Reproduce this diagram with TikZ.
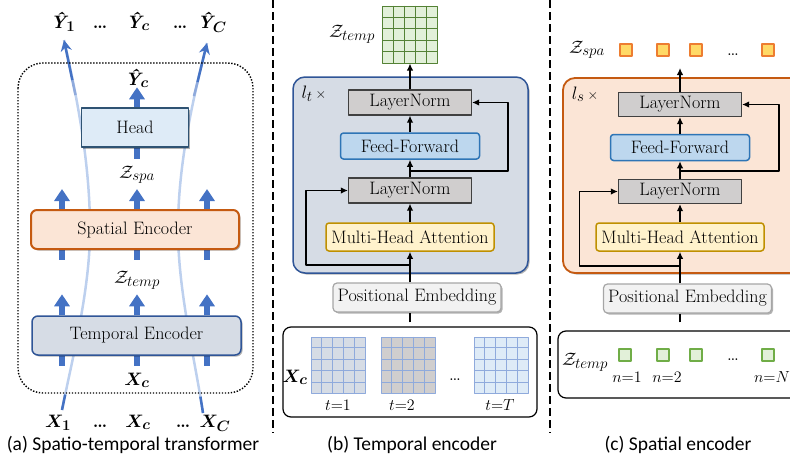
\documentclass[tikz,border=0pt]{standalone}
\usepackage{fix-cm}
\usepackage{fontspec}
\newfontfamily\capfont{Carlito}
\usepackage{bm}
\usetikzlibrary{arrows.meta,shadows,calc}
\pgfdeclarelayer{bg}
\pgfsetlayers{bg,main}
\definecolor{blueA}{HTML}{4472C4}
\definecolor{curveC}{HTML}{BDD0EE}
\definecolor{curveM}{HTML}{8FAADC}
\definecolor{headF}{HTML}{DEEBF7}
\definecolor{headB}{HTML}{2F5373}
\definecolor{spaF}{HTML}{FBE5D6}
\definecolor{spaB}{HTML}{C55A11}
\definecolor{tmpF}{HTML}{D6DCE5}
\definecolor{tmpB}{HTML}{2F5597}
\definecolor{lnF}{HTML}{D0CECE}
\definecolor{lnB}{HTML}{404040}
\definecolor{ffF}{HTML}{BDD7EE}
\definecolor{ffB}{HTML}{2E75B6}
\definecolor{mhF}{HTML}{FFF2CC}
\definecolor{mhB}{HTML}{BF9000}
\definecolor{peF}{HTML}{F2F2F2}
\definecolor{peB}{HTML}{A6A6A6}
\definecolor{grF}{HTML}{E2F0D9}
\definecolor{grB}{HTML}{548235}
\definecolor{sqgB}{HTML}{70AD47}
\definecolor{sqyF}{HTML}{FFD966}
\definecolor{sqyB}{HTML}{ED7D31}
\definecolor{gaF}{HTML}{D6DCE5}
\definecolor{gcF}{HTML}{DEEBF7}
\definecolor{gL}{HTML}{8FAADC}
\newcommand\mygridlines[2]{%
  \foreach \i in {1,2,3,4}{%
    \draw[#2,line width=0.9pt] ($(#1.north west)!\i/5!(#1.north east)$) -- ($(#1.south west)!\i/5!(#1.south east)$);
    \draw[#2,line width=0.9pt] ($(#1.north west)!\i/5!(#1.south west)$) -- ($(#1.north east)!\i/5!(#1.south east)$);
  }}
\newcommand\msub[1]{\mbox{\fontsize{15}{16}\selectfont$#1$}}
\newcommand\yhat[1]{{\bfseries\itshape Ŷ}$_{\msub{\bm{#1}}}$}
\newcommand\xbold[1]{$\bm{X}_{\msub{\bm{#1}}}$}
\begin{document}
\begin{tikzpicture}[x=1pt,y=-1pt,line join=round,
  bt/.style={font=\fontsize{18}{20}\selectfont, inner sep=0pt, align=center},
  ml/.style={font=\fontsize{18}{20}\selectfont, inner sep=0pt, anchor=base},
  dl/.style={font=\fontsize{21}{22}\selectfont, inner sep=0pt, anchor=base},
  sl/.style={font=\fontsize{16}{18}\selectfont, inner sep=0pt, anchor=base},
  captxt/.style={font=\capfont\fontsize{19.5}{22}\selectfont, inner sep=0pt, anchor=base},
  shd/.style={drop shadow={shadow xshift=1.5pt, shadow yshift=-1.5pt, opacity=0.3, fill=black}},
  fat/.style={draw=blueA, line width=5.5pt},
  fatarr/.style={fat, -{Triangle[width=15pt,length=12pt]}},
  curvel/.style={draw=curveC, line width=2.5pt},
  conn/.style={draw=black, line width=1.5pt},
  connarr/.style={conn, -{Latex[length=7pt,width=6.5pt]}},
  lnbox/.style={bt, draw=lnB, fill=lnF, line width=1.2pt, minimum width=123pt, minimum height=25pt},
  ffbox/.style={bt, draw=ffB, fill=ffF, line width=1.5pt, rounded corners=3pt, minimum width=139pt, minimum height=26pt},
  mhbox/.style={bt, draw=mhB, fill=mhF, line width=1.5pt, rounded corners=3pt, minimum width=168pt, minimum height=28pt},
  pebox/.style={bt, shd, draw=peB, fill=peF, line width=1.2pt, rounded corners=4pt, minimum width=168pt, minimum height=29pt},
  sqbox/.style={minimum size=12pt, inner sep=0pt, line width=1.2pt},
]
\useasboundingbox (0,0) rectangle (790,463);
\clip (0,0) rectangle (790,463);

% ---------------- panel (a) ----------------
\draw[line width=1.4pt, dash pattern=on 1.4pt off 1.6pt, rounded corners=25pt] (18,63) rectangle (253,393);

\node[bt, shd, draw=headB, fill=headF, line width=1.5pt, minimum width=107pt, minimum height=39pt] (head) at (135,127.5) {Head};
\node[bt, shd, draw=spaB, fill=spaF, line width=2pt, rounded corners=6pt, minimum width=208pt, minimum height=39pt] (spa) at (135,229.5) {Spatial Encoder};
\node[bt, shd, draw=tmpB, fill=tmpF, line width=1.5pt, rounded corners=6pt, minimum width=209pt, minimum height=39pt] (tmp) at (136.5,335.5) {Temporal Encoder};

\coordinate (ca) at (62,0);
\coordinate (cb) at (137,0);
\coordinate (cc) at (207,0);

\coordinate (la0) at (62,410);
\coordinate (la1) at (64,40);
\coordinate (ra0) at (203,413);
\coordinate (ra1) at (207,43);

\begin{pgfonlayer}{bg}
  \draw[curvel] (la0) .. controls (72,360) and (90,290) .. (90,230) .. controls (90,170) and (80,110) .. (la1);
  \draw[curvel] (ra0) .. controls (195,360) and (178,290) .. (178,230) .. controls (178,170) and (190,110) .. (ra1);
  \draw[draw=curveM, line width=2.5pt] (75.5,95) -- (72.3,80);
  \draw[draw=curveM, line width=2.5pt] (194,96) -- (197.5,82);
  \draw[draw=blueA, line width=2.5pt, -{Stealth[length=11pt,width=11pt]}] (72.3,80) -- (la1);
  \draw[draw=blueA, line width=2.5pt, -{Stealth[length=11pt,width=11pt]}] (197.5,82) -- (ra1);
  \draw[draw=blueA, line width=2.5pt] (la0) -- (65.2,394.5);
  \draw[draw=blueA, line width=2.5pt] (ra0) -- (200.4,396.6);
  \foreach \c in {ca,cb,cc}{
    \draw[fatarr] (tmp.north -| \c) -- ++(0,-21);
    \draw[fat] (tmp.south -| \c) -- ++(0,10);
    \draw[fatarr] (spa.north -| \c) -- ++(0,-20);
    \draw[fat] (spa.south -| \c) -- ++(0,10);
  }
  \draw[fatarr] (head.north -| cb) -- ++(0,-20);
  \draw[fat] (head.south -| cb) -- ++(0,11);
\end{pgfonlayer}

\node[ml] (yh1) at (63,28) {\yhat{1}};
\node[ml] (yd1) at (100,28) {\textbf{…}};
\node[ml] (yhc) at (138,28) {\yhat{c}};
\node[ml] (yd2) at (180,28) {\textbf{…}};
\node[ml] (yhC) at (212,28) {\yhat{C}};
\node[ml] (yin) at (137,85) {\yhat{c}};
\node[ml] (zspa) at (137,178) {$\mathcal{Z}_{\msub{spa}}$};
\node[ml] (ztmp) at (137,283) {$\mathcal{Z}_{\msub{temp}}$};
\node[ml] (xin) at (137,385) {\xbold{c}};
\node[ml] (x1) at (58,427) {\xbold{1}};
\node[ml] (xd1) at (100,427) {\textbf{…}};
\node[ml] (xc) at (138,427) {\xbold{c}};
\node[ml] (xd2) at (183,427) {\textbf{…}};
\node[ml] (xC) at (215,427) {\xbold{C}};
\node[captxt] (capa) at (133,450) {(a) Spatio-temporal transformer};

% dividers
\draw[line width=1.2pt, dash pattern=on 8pt off 4pt] (273,0) -- (273,433);
\draw[line width=1.2pt, dash pattern=on 8pt off 4pt] (550,0) -- (550,433);

% ---------------- panel (b) ----------------
\coordinate (xb) at (410,0);
\node[shd, draw=tmpB, fill=tmpF, line width=1.5pt, rounded corners=12pt, minimum width=235pt, minimum height=196pt, inner sep=0pt] (tb) at (410.5,175) {};
\node[lnbox] (ln2b) at (410,102.5) {LayerNorm};
\node[ffbox] (ffb) at (410,146) {Feed-Forward};
\node[lnbox] (ln1b) at (410,190.5) {LayerNorm};
\node[mhbox] (mhb) at (410,237) {Multi-Head Attention};
\node[pebox] (peb) at (417,297.5) {Positional Embedding};
\node[ml] (ltb) at (314,98) {$l_{\msub{t}}$\,{\fontsize{14}{16}\selectfont ×}};

\node[draw=grB, fill=grF, line width=1pt, minimum width=55pt, minimum height=57pt, inner sep=0pt] (zt) at (410,34.5) {};
\mygridlines{zt}{grB}
\node[ml] (ztl) at (352,37) {$\mathcal{Z}_{\msub{temp}}$};

\coordinate (jb1) at (410,265);
\coordinate (jb2) at (410,171);
\draw[connarr] (ln2b.north) -- (zt.south);
\draw[connarr] (ffb.north) -- (ln2b.south);
\draw[connarr] (ln1b.north) -- (ffb.south);
\draw[connarr] (mhb.north) -- (ln1b.south);
\draw[connarr] (peb.north -| xb) -- (mhb.south);
\draw[connarr] (jb1) -| ($(ln1b.west)+(-42,0)$) -- (ln1b.west);
\draw[connarr] (jb2) -| ($(ln2b.east)+(36,0)$) -- (ln2b.east);

\node[draw=black, line width=1.2pt, rounded corners=8pt, minimum width=254pt, minimum height=90pt, inner sep=0pt] (inb) at (410,372) {};
\draw[conn, shorten <=4pt] (inb.north -| xb) -- (peb.south -| xb);

\node[draw=gL, fill=gaF, line width=1pt, minimum width=54pt, minimum height=56pt, inner sep=0pt] (g1) at (338,365) {};
\mygridlines{g1}{gL}
\node[draw=gL, fill=lnF, line width=1pt, minimum width=54pt, minimum height=56pt, inner sep=0pt] (g2) at (408,365) {};
\mygridlines{g2}{gL}
\node[draw=gL, fill=gcF, line width=1pt, minimum width=54pt, minimum height=56pt, inner sep=0pt] (g3) at (501,365) {};
\mygridlines{g3}{gL}
\node[ml] (xcb) at (295,382) {\xbold{c}};
\node[dl] (gdots) at (455,380) {…};
\node[sl] (t1) at (338,410) {$t{=}1$};
\node[sl] (t2) at (402,410) {$t{=}2$};
\node[sl] (tT) at (500,410) {$t{=}T$};
\node[captxt] (capb) at (412,450) {(b) Temporal encoder};

% ---------------- panel (c) ----------------
\coordinate (xcc) at (680,0);
\node[shd, draw=spaB, fill=spaF, line width=1.8pt, rounded corners=12pt, minimum width=267pt, minimum height=195pt, inner sep=0pt] (sb) at (696.5,175.5) {};
\node[lnbox, minimum height=24pt] (ln2c) at (680,104.5) {LayerNorm};
\node[ffbox] (ffc) at (680,147.5) {Feed-Forward};
\node[lnbox, minimum height=24pt] (ln1c) at (680,191.5) {LayerNorm};
\node[mhbox] (mhc) at (680,237) {Multi-Head Attention};
\node[pebox] (pec) at (687.5,298.5) {Positional Embedding};
\node[ml] (lsc) at (585,99) {$l_{\msub{s}}$\,{\fontsize{14}{16}\selectfont ×}};

\coordinate (ztop) at (680,68);
\coordinate (jc1) at (680,266);
\coordinate (jc2) at (680,171);
\draw[connarr] (ln2c.north) -- (ztop);
\draw[connarr] (ffc.north) -- (ln2c.south);
\draw[connarr] (ln1c.north) -- (ffc.south);
\draw[connarr] (mhc.north) -- (ln1c.south);
\draw[connarr] (pec.north -| xcc) -- (mhc.south);
\draw[connarr] (jc1) -| ($(ln1c.west)+(-38.5,0)$) -- (ln1c.west);
\draw[connarr] (jc2) -| ($(ln2c.east)+(37,0)$) -- (ln2c.east);

\node[ml] (zsl) at (587,53) {$\mathcal{Z}_{\msub{spa}}$};
\node[sqbox, draw=sqyB, fill=sqyF] (s1) at (626,50) {};
\node[sqbox, draw=sqyB, fill=sqyF] (s2) at (663,50) {};
\node[sqbox, draw=sqyB, fill=sqyF] (s3) at (696,50) {};
\node[dl] (sd) at (733,55) {…};
\node[sqbox, draw=sqyB, fill=sqyF] (s4) at (768,50) {};

\node[draw=black, line width=1.2pt, rounded corners=8pt, minimum width=272pt, minimum height=67pt, inner sep=0pt] (inc) at (694,364.5) {};
\draw[conn, shorten <=8pt] (inc.north -| xcc) -- (pec.south -| xcc);
\node[ml] (ztc) at (585,365) {$\mathcal{Z}_{\msub{temp}}$};
\node[sqbox, draw=sqgB, fill=grF] (q1) at (625,355) {};
\node[sqbox, draw=sqgB, fill=grF] (q2) at (663,355) {};
\node[sqbox, draw=sqgB, fill=grF] (q3) at (696,355) {};
\node[dl] (qd) at (733,360) {…};
\node[sqbox, draw=sqgB, fill=grF] (q4) at (768,355) {};
\node[sl] (n1) at (627,382) {$n{=}1$};
\node[sl] (n2) at (667,382) {$n{=}2$};
\node[sl] (nN) at (772,382) {$n{=}N$};
\node[captxt] (capc) at (678,450) {(c) Spatial encoder};
\end{tikzpicture}
\end{document}
